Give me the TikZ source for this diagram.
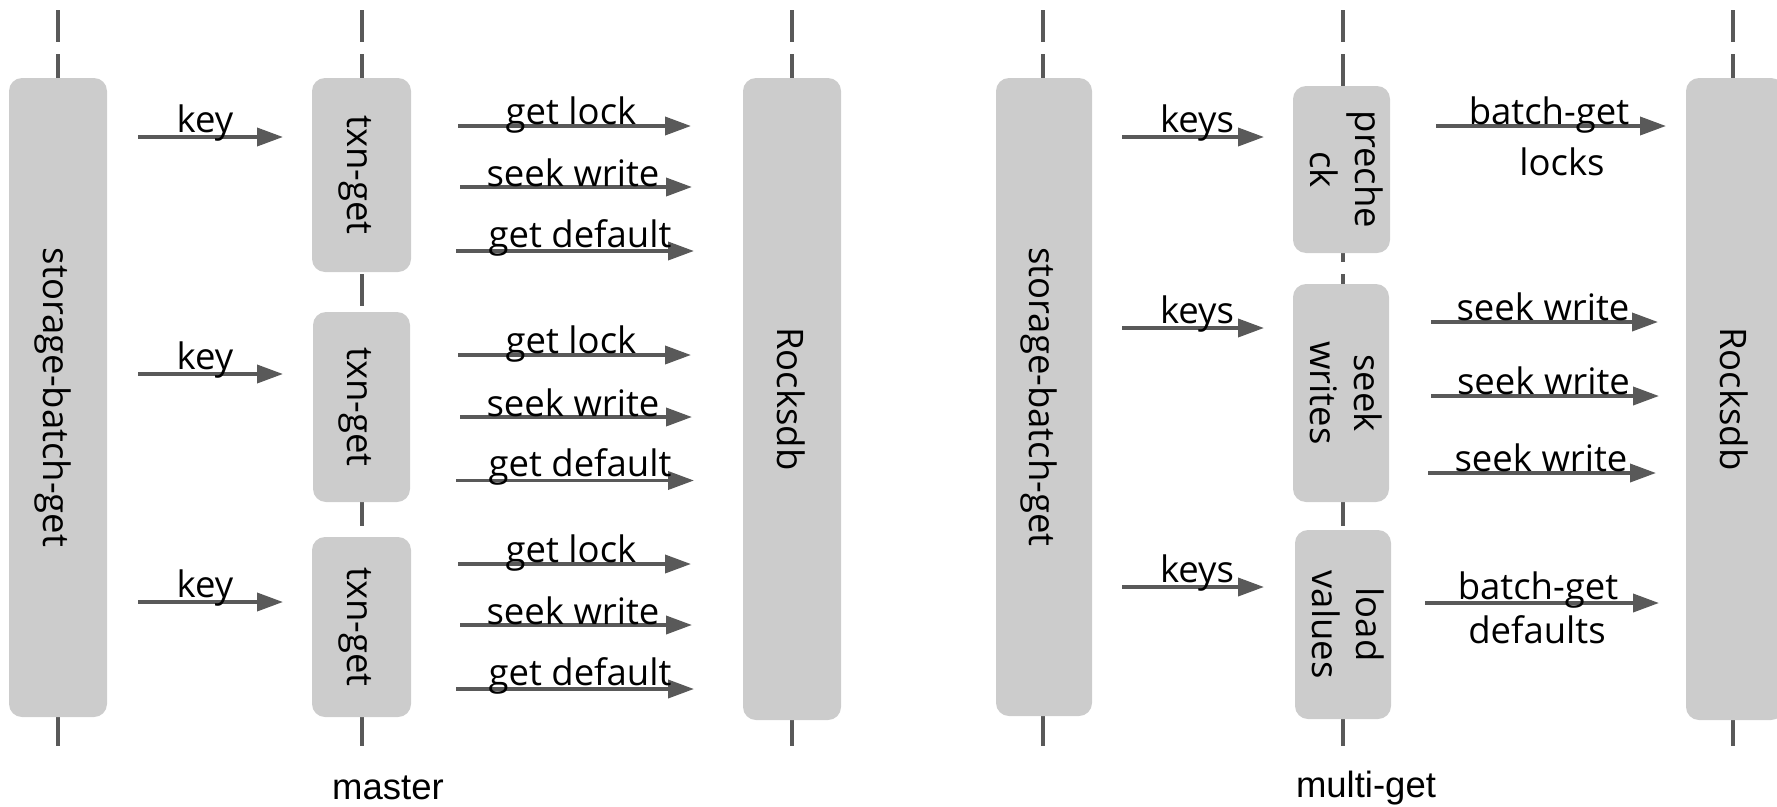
\documentclass[tikz,border=0pt]{standalone}
\usepackage{fontspec}
\setmainfont{Open Sans}
\newfontfamily\capfont{Liberation Sans}
\usetikzlibrary{arrows.meta}
\definecolor{linec}{HTML}{595959}
\definecolor{boxc}{HTML}{CCCCCC}
% struts that give every box text the full ascent/descent of the font
\newcommand\topstrut{\rule{0pt}{1.069em}}
\newcommand\botstrut{\rule[-0.293em]{0pt}{0.293em}}

\begin{document}
\begin{tikzpicture}[x=1pt,y=-1pt,
  lifeline/.style={draw=linec, line width=3.7pt, dash pattern=on 32pt off 12pt},
  flow/.style={draw=linec, line width=3.7pt, -{Triangle[length=26pt,width=18pt]}},
  box/.style={fill=boxc, rounded corners=13pt, rotate=-90, inner sep=0pt, align=center,
    font=\fontsize{36.5pt}{44pt}\selectfont,
    execute at begin node=\topstrut, execute at end node=\botstrut},
  lbl/.style={font=\fontsize{36.5pt}{44pt}\selectfont, inner sep=0pt, anchor=base},
  captext/.style={font=\capfont\fontsize{36.5pt}{44pt}\selectfont, inner sep=0pt, anchor=base}]
\useasboundingbox (0,0) rectangle (1777,806);
\clip (0,0) rectangle (1777,806);

% lifelines behind the boxes
\foreach \n/\x in {sa/58, ta/362, ra/792, sb/1043, tb/1343, rb/1733} {
  \coordinate (\n-top) at (\x,10);
  \coordinate (\n-bot) at (\x,746);
  \draw[lifeline] (\n-top) -- (\n-bot);
}

% master: boxes
\node[box, minimum width=639pt, minimum height=98pt] (storeA) at (58,397.5) {storage-batch-get};
\node[box, minimum width=194pt, minimum height=99pt] (txnA) at (361.5,175) {txn-get};
\node[box, minimum width=190pt, minimum height=97pt] (txnB) at (361.5,407) {txn-get};
\node[box, minimum width=180pt, minimum height=99pt] (txnC) at (361.5,627) {txn-get};
\node[box, minimum width=642pt, minimum height=98pt] (rocksA) at (792,399) {Rocksdb};

% multi-get: boxes
\node[box, minimum width=638pt, minimum height=96pt] (storeB) at (1044,397) {storage-batch-get};
\node[box, minimum width=167pt, minimum height=97pt] (precheck) at (1341.5,169.5) {preche\\ck};
\node[box, minimum width=218pt, minimum height=96pt] (seekw) at (1341,393) {seek\\writes};
\node[box, minimum width=189pt, minimum height=96pt] (loadv) at (1343,624.5) {load\\values};
\node[box, minimum width=642pt, minimum height=98pt] (rocksB) at (1735,399) {Rocksdb};

% master: key arrows
\foreach \y [count=\i] in {137,374,602} {
  \coordinate (keyA\i-s) at (138,\y);
  \coordinate (keyA\i-e) at (283,\y);
  \draw[flow] (keyA\i-s) -- (keyA\i-e) node[lbl, pos=.5, xshift=-5.5pt, yshift=5pt] {key};
}

% master: reads issued by each txn-get
\foreach \a/\b/\c [count=\i] in {126/187/251, 355/417/480.5, 564/625/689} {
  \coordinate (lockA\i-s) at (458,\a);
  \coordinate (lockA\i-e) at (691,\a);
  \coordinate (writeA\i-s) at (460,\b);
  \coordinate (writeA\i-e) at (692,\b);
  \coordinate (defA\i-s) at (456,\c);
  \coordinate (defA\i-e) at (694,\c);
  \draw[flow] (lockA\i-s) -- (lockA\i-e) node[lbl, pos=.5, xshift=-3.5pt, yshift=2pt] {get lock};
  \draw[flow] (writeA\i-s) -- (writeA\i-e) node[lbl, pos=.5, xshift=-3pt, yshift=1pt] {seek write};
  \draw[flow] (defA\i-s) -- (defA\i-e) node[lbl, pos=.5, xshift=5pt, yshift=4pt] {get default};
}

% multi-get: keys arrows
\foreach \y [count=\i] in {137,328,587} {
  \coordinate (keyB\i-s) at (1122,\y);
  \coordinate (keyB\i-e) at (1264,\y);
  \draw[flow] (keyB\i-s) -- (keyB\i-e) node[lbl, pos=.5, xshift=4pt, yshift=5pt] {keys};
}

% multi-get: batched reads
\coordinate (lockB-s) at (1436,126);
\coordinate (lockB-e) at (1666,126);
\draw[flow] (lockB-s) -- (lockB-e)
  node[lbl, pos=.5, xshift=-2pt, yshift=2pt] {batch-get}
  node[lbl, pos=.5, xshift=11pt, yshift=-49pt] {locks};

\foreach \y/\xs/\xe/\dx [count=\i] in {322/1431/1658/-1.5, 396/1431/1659/-1.5, 473/1428/1656/-1} {
  \coordinate (writeB\i-s) at (\xs,\y);
  \coordinate (writeB\i-e) at (\xe,\y);
  \draw[flow] (writeB\i-s) -- (writeB\i-e) node[lbl, pos=.5, xshift=\dx pt, yshift=2pt] {seek write};
}

\coordinate (defB-s) at (1425,603);
\coordinate (defB-e) at (1659,603);
\draw[flow] (defB-s) -- (defB-e)
  node[lbl, pos=.5, xshift=-4pt, yshift=4pt] {batch-get}
  node[lbl, pos=.5, xshift=-5pt, yshift=-40pt] {defaults};

% captions
\node[captext] (capA) at (388,799) {master};
\node[captext] (capB) at (1366,797) {multi-get};
\end{tikzpicture}
\end{document}
